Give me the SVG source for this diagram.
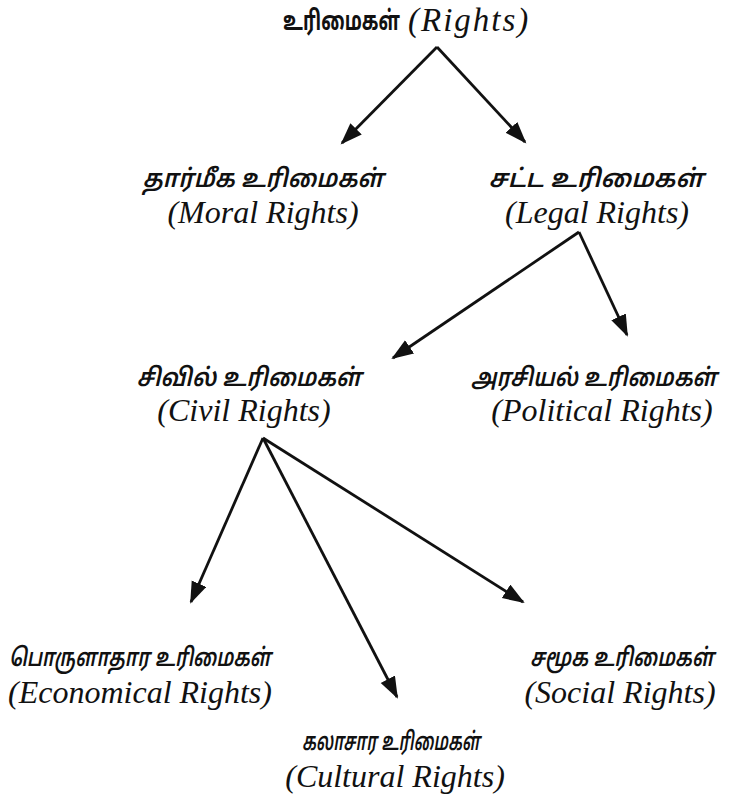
<svg xmlns="http://www.w3.org/2000/svg" width="738" height="796" viewBox="0 0 738 796">
<defs>
<style>
.ta{font-family:"Noto Sans Tamil","Lohit Tamil","Latha","Noto Sans",sans-serif;font-size:25px;font-style:italic;font-weight:600;fill:#111;text-anchor:middle}
.tb{font-family:"Noto Sans Tamil","Lohit Tamil","Latha","Noto Sans",sans-serif;font-size:27px;font-weight:bold;fill:#111;text-anchor:end}
.en{font-family:"Liberation Serif","Times New Roman",serif;font-size:32px;font-style:italic;fill:#111;text-anchor:middle}
.et{font-family:"Liberation Serif","Times New Roman",serif;font-size:33px;font-style:italic;letter-spacing:2px;fill:#111}
.arr{stroke:#111;stroke-width:2.8;fill:none;marker-end:url(#ah)}
</style>
<marker id="ah" markerUnits="userSpaceOnUse" markerWidth="24" markerHeight="18" refX="20" refY="8" orient="auto">
<path d="M0,0 L22,8 L0,16 z" fill="#111"/>
</marker>
</defs>
<rect width="738" height="796" fill="#ffffff"/>
<g id="rights">
<text class="tb" x="400" y="30" textLength="117" lengthAdjust="spacingAndGlyphs">உரிமைகள்</text>
<text class="et" x="408" y="31">(Rights)</text>
</g>
<g id="moral">
<text class="ta" x="263" y="187" textLength="241" lengthAdjust="spacingAndGlyphs">தார்மீக உரிமைகள்</text>
<text class="en" x="263" y="223">(Moral Rights)</text>
</g>
<g id="legal">
<text class="ta" x="596" y="187" textLength="215" lengthAdjust="spacingAndGlyphs">சட்ட உரிமைகள்</text>
<text class="en" x="597" y="223">(Legal Rights)</text>
</g>
<g id="civil">
<text class="ta" x="249" y="386" textLength="225" lengthAdjust="spacingAndGlyphs">சிவில் உரிமைகள்</text>
<text class="en" x="244" y="421">(Civil Rights)</text>
</g>
<g id="political">
<text class="ta" x="717" y="386" style="text-anchor:end" textLength="246" lengthAdjust="spacingAndGlyphs">அரசியல் உரிமைகள்</text>
<text class="en" x="602" y="421">(Political Rights)</text>
</g>
<g id="economical">
<text class="ta" x="140" y="666" textLength="262" lengthAdjust="spacingAndGlyphs">பொருளாதார உரிமைகள்</text>
<text class="en" x="140" y="703">(Economical Rights)</text>
</g>
<g id="social">
<text class="ta" x="714" y="666" style="text-anchor:end" textLength="184" lengthAdjust="spacingAndGlyphs">சமூக உரிமைகள்</text>
<text class="en" x="620" y="703">(Social Rights)</text>
</g>
<g id="cultural">
<text class="ta" x="391" y="750" textLength="178" lengthAdjust="spacingAndGlyphs">கலாசார உரிமைகள்</text>
<text class="en" x="395" y="787">(Cultural Rights)</text>
</g>
<g id="connectors">
<line class="arr" x1="437" y1="47" x2="342" y2="143"/>
<line class="arr" x1="437" y1="47" x2="525" y2="142"/>
<line class="arr" x1="579" y1="232" x2="393" y2="358"/>
<line class="arr" x1="579" y1="232" x2="627" y2="335"/>
<line class="arr" x1="263" y1="438" x2="191" y2="602"/>
<line class="arr" x1="263" y1="438" x2="397" y2="697"/>
<line class="arr" x1="263" y1="438" x2="523" y2="602"/>
</g>
</svg>
